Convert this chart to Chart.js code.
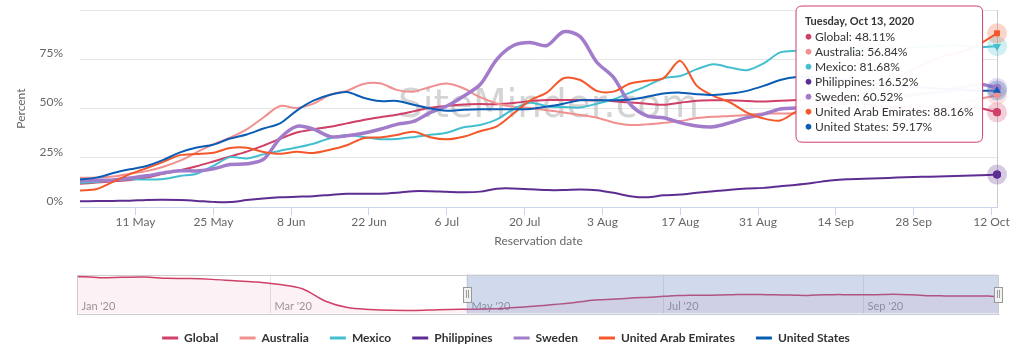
<!DOCTYPE html>
<html>
<head>
<meta charset="utf-8">
<script src="https://cdn.jsdelivr.net/npm/chart.js@4.4.0/dist/chart.umd.min.js"></script>
<style>
  html, body { margin: 0; padding: 0; background: #fff; }
  #wrap { position: relative; width: 1018px; height: 358px; }
  #main { position: absolute; left: 0; top: 0; }
  #nav { position: absolute; left: 0; top: 262px; }
</style>
</head>
<body>
<div id="wrap">
  <canvas id="main" width="1018" height="358"></canvas>
  <canvas id="nav" width="1018" height="64"></canvas>
</div>
<script>
// days since 1 May 2020, one sample every 3 days
const days = [0, 3, 6, 9, 12, 15, 18, 21, 24, 27, 30, 33, 36, 39, 42, 45, 48, 51, 54, 57,
  60, 63, 66, 69, 72, 75, 78, 81, 84, 87, 90, 93, 96, 99, 102, 105, 108, 111, 114, 117,
  120, 123, 126, 129, 132, 135, 138, 141, 144, 147, 150, 153, 156, 159, 162, 165];

const names = ['Global', 'Australia', 'Mexico', 'Philippines', 'Sweden', 'United Arab Emirates', 'United States'];
const colors = ['#cf3f67', '#f28f8f', '#43bfd0', '#5d2d91', '#a27ccb', '#f4582a', '#0b5cb5'];

const globalVals = [11.9, 12.5, 13.1, 13.8, 15.0, 17.0, 18.8, 20.8, 23.2, 25.7, 28.2, 31.2, 34.7, 37.9, 39.5, 40.8, 42.5, 44.2, 45.6, 46.9,
  48.6, 50.4, 51.4, 52.1, 52.3, 52.2, 52.8, 53.8, 54.3, 54.4, 54.3, 54.2, 53.7, 53.1, 52.5, 51.9, 53.0, 54.0, 54.2, 54.2,
  53.9, 53.6, 54.0, 54.3, 55.0, 54.6, 53.5, 52.3, 51.2, 50.7, 50.5, 50.6, 50.5, 50.4, 50.2, 48.11];
const australiaVals = [14.9, 15.1, 15.6, 17.0, 18.3, 20.5, 23.6, 27.8, 32.0, 35.3, 39.5, 45.5, 51.3, 50.3, 52.5, 57.0, 59.0, 62.5, 62.8, 59.5,
  58.6, 61.0, 62.7, 60.3, 55.8, 52.6, 51.0, 50.3, 49.2, 48.0, 46.7, 45.4, 43.0, 41.7, 42.0, 42.8, 43.7, 45.2, 45.9, 46.3,
  46.8, 47.5, 47.5, 47.6, 48.0, 48.5, 48.5, 49.0, 49.0, 49.5, 50.0, 50.5, 51.5, 53.0, 55.0, 56.84];
const mexicoVals = [12.4, 12.8, 13.5, 14.2, 14.0, 14.3, 15.8, 17.0, 21.0, 25.4, 24.7, 26.8, 28.6, 30.3, 32.2, 35.0, 36.6, 35.6, 34.5, 34.6,
  35.5, 36.7, 37.8, 40.5, 41.7, 44.5, 49.8, 53.0, 51.2, 50.8, 50.5, 52.5, 54.7, 58.1, 61.5, 65.4, 66.5, 70.0, 72.5, 70.8,
  69.5, 72.9, 78.5, 79.3, 79.5, 79.0, 80.0, 80.5, 81.0, 80.5, 81.0, 81.5, 82.0, 82.0, 81.2, 81.68];
const philippinesVals = [3.0, 3.1, 3.2, 3.3, 3.7, 3.8, 3.6, 3.2, 2.7, 2.6, 3.6, 4.4, 5.0, 5.3, 5.6, 6.2, 6.8, 6.8, 6.8, 7.3,
  8.1, 8.1, 7.8, 7.6, 7.9, 9.4, 9.5, 9.1, 8.7, 8.7, 9.0, 8.6, 7.3, 5.6, 5.0, 6.0, 6.4, 7.3, 8.1, 8.9,
  9.5, 9.8, 10.6, 11.4, 12.4, 13.5, 14.2, 14.4, 14.7, 15.0, 15.3, 15.5, 15.7, 15.9, 16.2, 16.52];
const swedenVals = [13.6, 13.6, 13.8, 14.8, 15.9, 17.4, 18.5, 18.4, 19.5, 21.6, 22.0, 24.2, 35.0, 41.0, 39.6, 35.8, 36.2, 37.5, 39.5, 42.0,
  43.5, 48.0, 51.3, 56.3, 62.2, 75.0, 82.0, 83.5, 82.0, 89.0, 86.5, 73.5, 65.8, 52.2, 46.3, 45.4, 42.9, 41.2, 40.8, 42.9,
  45.4, 47.2, 49.8, 50.3, 51.0, 52.0, 53.0, 54.0, 55.0, 56.0, 57.0, 58.0, 59.0, 61.0, 62.4, 60.52];
const uaeVals = [8.5, 9.2, 13.0, 16.8, 19.8, 23.0, 26.4, 27.0, 27.6, 30.0, 30.2, 28.0, 27.1, 28.1, 27.5, 29.1, 31.4, 35.0, 35.4, 36.6,
  38.3, 35.5, 34.4, 35.7, 38.5, 41.0, 47.5, 54.2, 58.1, 65.4, 64.5, 59.0, 58.6, 62.7, 64.1, 65.5, 74.2, 61.5, 56.4, 53.1,
  48.0, 45.0, 44.0, 48.5, 50.0, 52.0, 55.0, 58.0, 62.0, 66.0, 70.0, 74.0, 77.0, 79.0, 83.0, 88.16];
const usVals = [14.1, 15.0, 17.3, 19.2, 20.9, 24.0, 27.8, 30.3, 31.7, 34.8, 36.9, 39.9, 42.5, 49.0, 54.0, 57.0, 58.4, 55.5, 53.8, 53.9,
  52.0, 50.0, 48.9, 49.4, 49.7, 49.7, 49.7, 49.8, 51.0, 52.5, 54.2, 54.2, 54.2, 54.6, 56.0, 57.6, 58.1, 57.3, 56.9, 57.6,
  59.0, 61.5, 64.5, 66.0, 66.0, 65.5, 64.5, 63.5, 62.5, 61.5, 61.0, 60.5, 60.0, 59.5, 59.0, 59.17];

const series = [globalVals, australiaVals, mexicoVals, philippinesVals, swedenVals, uaeVals, usVals];

const tickDays = [10, 24, 38, 52, 66, 80, 94, 108, 122, 136, 150, 164];
const tickLabels = ['11 May', '25 May', '8 Jun', '22 Jun', '6 Jul', '20 Jul', '3 Aug', '17 Aug', '31 Aug', '14 Sep', '28 Sep', '12 Oct'];
const yTicks = [0, 25, 50, 75, 100];

// navigator: Global from 1 Jan (days since 1 Jan), weekly until end of April
const navEarlyDays = [0, 7, 14, 21, 28, 35, 42, 49, 56, 63, 70, 77, 84, 91, 98, 105, 112, 119];
const navEarlyGlobal = [106.5, 103.0, 104.0, 104.5, 101.0, 100.5, 98.0, 94.0, 90.5, 83.0, 71.0, 36.0, 17.0, 11.5, 9.0, 8.8, 11.0, 12.0];
const navOffset = 121; // 1 May
const navMonthDays = [0, 60, 121, 182, 244];
const navMonthLabels = ["Jan '20", "Mar '20", "May '20", "Jul '20", "Sep '20"];
const navSelection = [121, 286];

const markerStyles = ['circle', 'rectRot', 'triangle', 'circle', 'circle', 'rect', 'triangle'];
const markerRotation = [0, 0, 180, 0, 0, 0, 0];
const markerSize = [4, 4, 4.5, 4, 4, 4, 4.5];

const weekdays = ['Sunday', 'Monday', 'Tuesday', 'Wednesday', 'Thursday', 'Friday', 'Saturday'];
const months = ['Jan', 'Feb', 'Mar', 'Apr', 'May', 'Jun', 'Jul', 'Aug', 'Sep', 'Oct', 'Nov', 'Dec'];

Chart.defaults.font.family = 'Lato';
const last = days.length - 1;

function fade(hex, a) {
  const n = parseInt(hex.slice(1), 16);
  return `rgba(${n >> 16},${(n >> 8) & 255},${n & 255},${a})`;
}

function dateLabel(day) {
  const d = new Date(2020, 4, 1 + day);
  return `${weekdays[d.getDay()]}, ${months[d.getMonth()]} ${d.getDate()}, ${d.getFullYear()}`;
}

Chart.Tooltip.positioners.fixedBox = function () {
  return { x: 802, y: 6 };
};

const decor = {
  id: 'decor',
  beforeDatasetsDraw(chart) {
    const { ctx, chartArea: a, scales: { x } } = chart;
    ctx.save();
    // watermark
    ctx.font = '39px "DejaVu Sans"';
    ctx.fillStyle = 'rgba(170,170,170,0.5)';
    ctx.textAlign = 'center';
    ctx.textBaseline = 'alphabetic';
    ctx.fillText('SiteMinder.com', (a.left + a.right) / 2 + 10, 117);
    // crosshair
    const cx = Math.round(x.getPixelForValue(days[last])) + 0.5;
    ctx.strokeStyle = '#cccccc';
    ctx.lineWidth = 1;
    ctx.beginPath();
    ctx.moveTo(cx, a.top);
    ctx.lineTo(cx, a.bottom);
    ctx.stroke();
    ctx.restore();
  },
  afterDatasetsDraw(chart) {
    const { ctx } = chart;
    ctx.save();
    chart.data.datasets.forEach((ds, i) => {
      const pt = chart.getDatasetMeta(i).data[last];
      ctx.fillStyle = fade(colors[i], 0.25);
      ctx.beginPath();
      ctx.arc(pt.x, pt.y, 10, 0, Math.PI * 2);
      ctx.fill();
    });
    chart.data.datasets.forEach((ds, i) => {
      chart.getDatasetMeta(i).data[last].draw(ctx);
    });
    ctx.restore();
  }
};

const chart = new Chart(document.getElementById('main'), {
  type: 'line',
  data: {
    datasets: names.map((name, i) => ({
      label: name,
      data: series[i].map((v, j) => ({ x: days[j], y: v })),
      borderColor: colors[i],
      backgroundColor: colors[i],
      borderWidth: i === 4 ? 3.5 : 2,
      tension: 0.3,
      order: names.length - i,
      clip: false,
      pointStyle: markerStyles[i],
      rotation: markerRotation[i],
      pointRadius: ctx => ctx.dataIndex === last ? markerSize[i] : 0,
      pointHoverRadius: ctx => ctx.dataIndex === last ? markerSize[i] : 0,
      pointBorderWidth: 0,
      pointHoverBorderWidth: 0
    }))
  },
  options: {
    responsive: false,
    animation: false,
    layout: { padding: { top: 10, left: 15, right: 21, bottom: 4 } },
    scales: {
      x: {
        type: 'linear',
        min: 0,
        max: 165,
        afterBuildTicks: s => { s.ticks = tickDays.map(v => ({ value: v })); },
        ticks: {
          autoSkip: false,
          maxRotation: 0,
          padding: 0,
          color: '#666',
          font: { size: 12 },
          callback: (v, i) => tickLabels[i]
        },
        grid: { drawOnChartArea: false, drawTicks: true, tickLength: 8, color: '#ccd6eb' },
        border: { display: true, color: '#ccd6eb' },
        title: {
          display: true, text: 'Reservation date', color: '#666',
          font: { size: 12 }, padding: { top: 4, bottom: 63 }
        }
      },
      y: {
        min: 0,
        max: 100,
        afterFit: s => { s.width = 65; s.paddingTop = 0; s.paddingBottom = 0; },
        afterBuildTicks: s => { s.ticks = yTicks.map(v => ({ value: v })); },
        ticks: {
          padding: 17,
          labelOffset: -6,
          color: '#666',
          font: { size: 12 },
          callback: v => v < 100 ? v + '%' : ''
        },
        grid: { color: '#e6e6e6', drawTicks: false },
        border: { display: false },
        title: {
          display: true, text: 'Percent', color: '#666',
          font: { size: 12 }, padding: { top: -1 }
        }
      }
    },
    plugins: {
      legend: {
        position: 'bottom',
        labels: {
          boxWidth: 16,
          boxHeight: 3,
          padding: 21,
          color: '#333',
          font: { size: 12, weight: 'bold' },
          generateLabels: c => c.data.datasets.map((ds, i) => ({
            text: ds.label, fillStyle: colors[i], strokeStyle: colors[i],
            lineWidth: 0, hidden: false, datasetIndex: i, fontColor: '#333'
          }))
        }
      },
      tooltip: {
        position: 'fixedBox',
        xAlign: 'left',
        yAlign: 'top',
        backgroundColor: 'rgba(255,255,255,0.96)',
        borderColor: colors[0],
        borderWidth: 1,
        cornerRadius: 6,
        caretSize: 0,
        caretPadding: 0,
        padding: { top: 9, bottom: 8, left: 9, right: 9 },
        titleColor: '#333',
        titleFont: { size: 11, weight: 'bold' },
        titleMarginBottom: 1,
        bodyColor: '#333',
        bodyFont: { size: 12, lineHeight: 1.25 },
        bodySpacing: 0,
        usePointStyle: true,
        boxWidth: 7,
        boxHeight: 5,
        boxPadding: 1,
        callbacks: {
          title: items => dateLabel(items[0].parsed.x),
          label: item => `${item.dataset.label}: ${item.parsed.y.toFixed(2)}%`,
          labelColor: item => ({ borderColor: colors[item.datasetIndex], backgroundColor: colors[item.datasetIndex] }),
          labelPointStyle: () => ({ pointStyle: 'circle', rotation: 0 })
        }
      }
    }
  },
  plugins: [decor]
});

const active = names.map((n, i) => ({ datasetIndex: i, index: last }));
const anchor = chart.getDatasetMeta(0).data[last];
chart.tooltip.setActiveElements(active, { x: anchor.x, y: anchor.y });
chart.update();

// ---- navigator ----
const navDecor = {
  id: 'navDecor',
  beforeDatasetsDraw(c) {
    const { ctx, chartArea: a, scales: { x } } = c;
    ctx.save();
    ctx.strokeStyle = '#e6e6e6';
    ctx.lineWidth = 1;
    ctx.font = '11px Lato';
    ctx.fillStyle = '#999';
    ctx.textBaseline = 'middle';
    navMonthDays.forEach((d, i) => {
      const px = Math.round(x.getPixelForValue(d)) + 0.5;
      ctx.beginPath();
      ctx.moveTo(px, a.top);
      ctx.lineTo(px, a.bottom);
      ctx.stroke();
      ctx.fillText(navMonthLabels[i], px + 4, a.top + 32);
    });
    ctx.restore();
  },
  afterDatasetsDraw(c) {
    const { ctx, chartArea: a, scales: { x } } = c;
    const x0 = x.getPixelForValue(navSelection[0]);
    const x1 = x.getPixelForValue(navSelection[1]);
    ctx.save();
    ctx.fillStyle = 'rgba(102,133,194,0.3)';
    ctx.fillRect(x0, a.top, x1 - x0, a.bottom - a.top);
    ctx.strokeStyle = '#cccccc';
    ctx.lineWidth = 1;
    ctx.strokeRect(Math.round(a.left) + 0.5, Math.round(a.top) + 0.5, Math.round(a.right - a.left), Math.round(a.bottom - a.top));
    const cy = (a.top + a.bottom) / 2;
    [x0, x1].forEach(hx => {
      const rx = Math.round(hx - 4) + 0.5;
      ctx.fillStyle = '#f2f2f2';
      ctx.strokeStyle = '#999999';
      ctx.fillRect(rx, Math.round(cy - 7.5) + 0.5, 8, 15);
      ctx.strokeRect(rx, Math.round(cy - 7.5) + 0.5, 8, 15);
      ctx.beginPath();
      ctx.moveTo(rx + 3, cy - 4); ctx.lineTo(rx + 3, cy + 4);
      ctx.moveTo(rx + 5, cy - 4); ctx.lineTo(rx + 5, cy + 4);
      ctx.stroke();
    });
    ctx.restore();
  }
};

const navPoints = navEarlyDays.map((d, i) => ({ x: d, y: navEarlyGlobal[i] }))
  .concat(days.map((d, i) => ({ x: d + navOffset, y: globalVals[i] })));

new Chart(document.getElementById('nav'), {
  type: 'line',
  data: {
    datasets: [{
      data: navPoints,
      borderColor: colors[0],
      borderWidth: 1.5,
      backgroundColor: fade(colors[0], 0.07),
      fill: 'origin',
      pointRadius: 0,
      tension: 0.3
    }]
  },
  options: {
    responsive: false,
    animation: false,
    events: [],
    layout: { padding: { left: 77, right: 20, top: 12.5, bottom: 12.5 } },
    scales: {
      x: { type: 'linear', display: false, min: 0, max: 286 },
      y: { display: false, min: 0, max: 112 }
    },
    plugins: { legend: { display: false }, tooltip: { enabled: false } }
  },
  plugins: [navDecor]
});
</script>
</body>
</html>
